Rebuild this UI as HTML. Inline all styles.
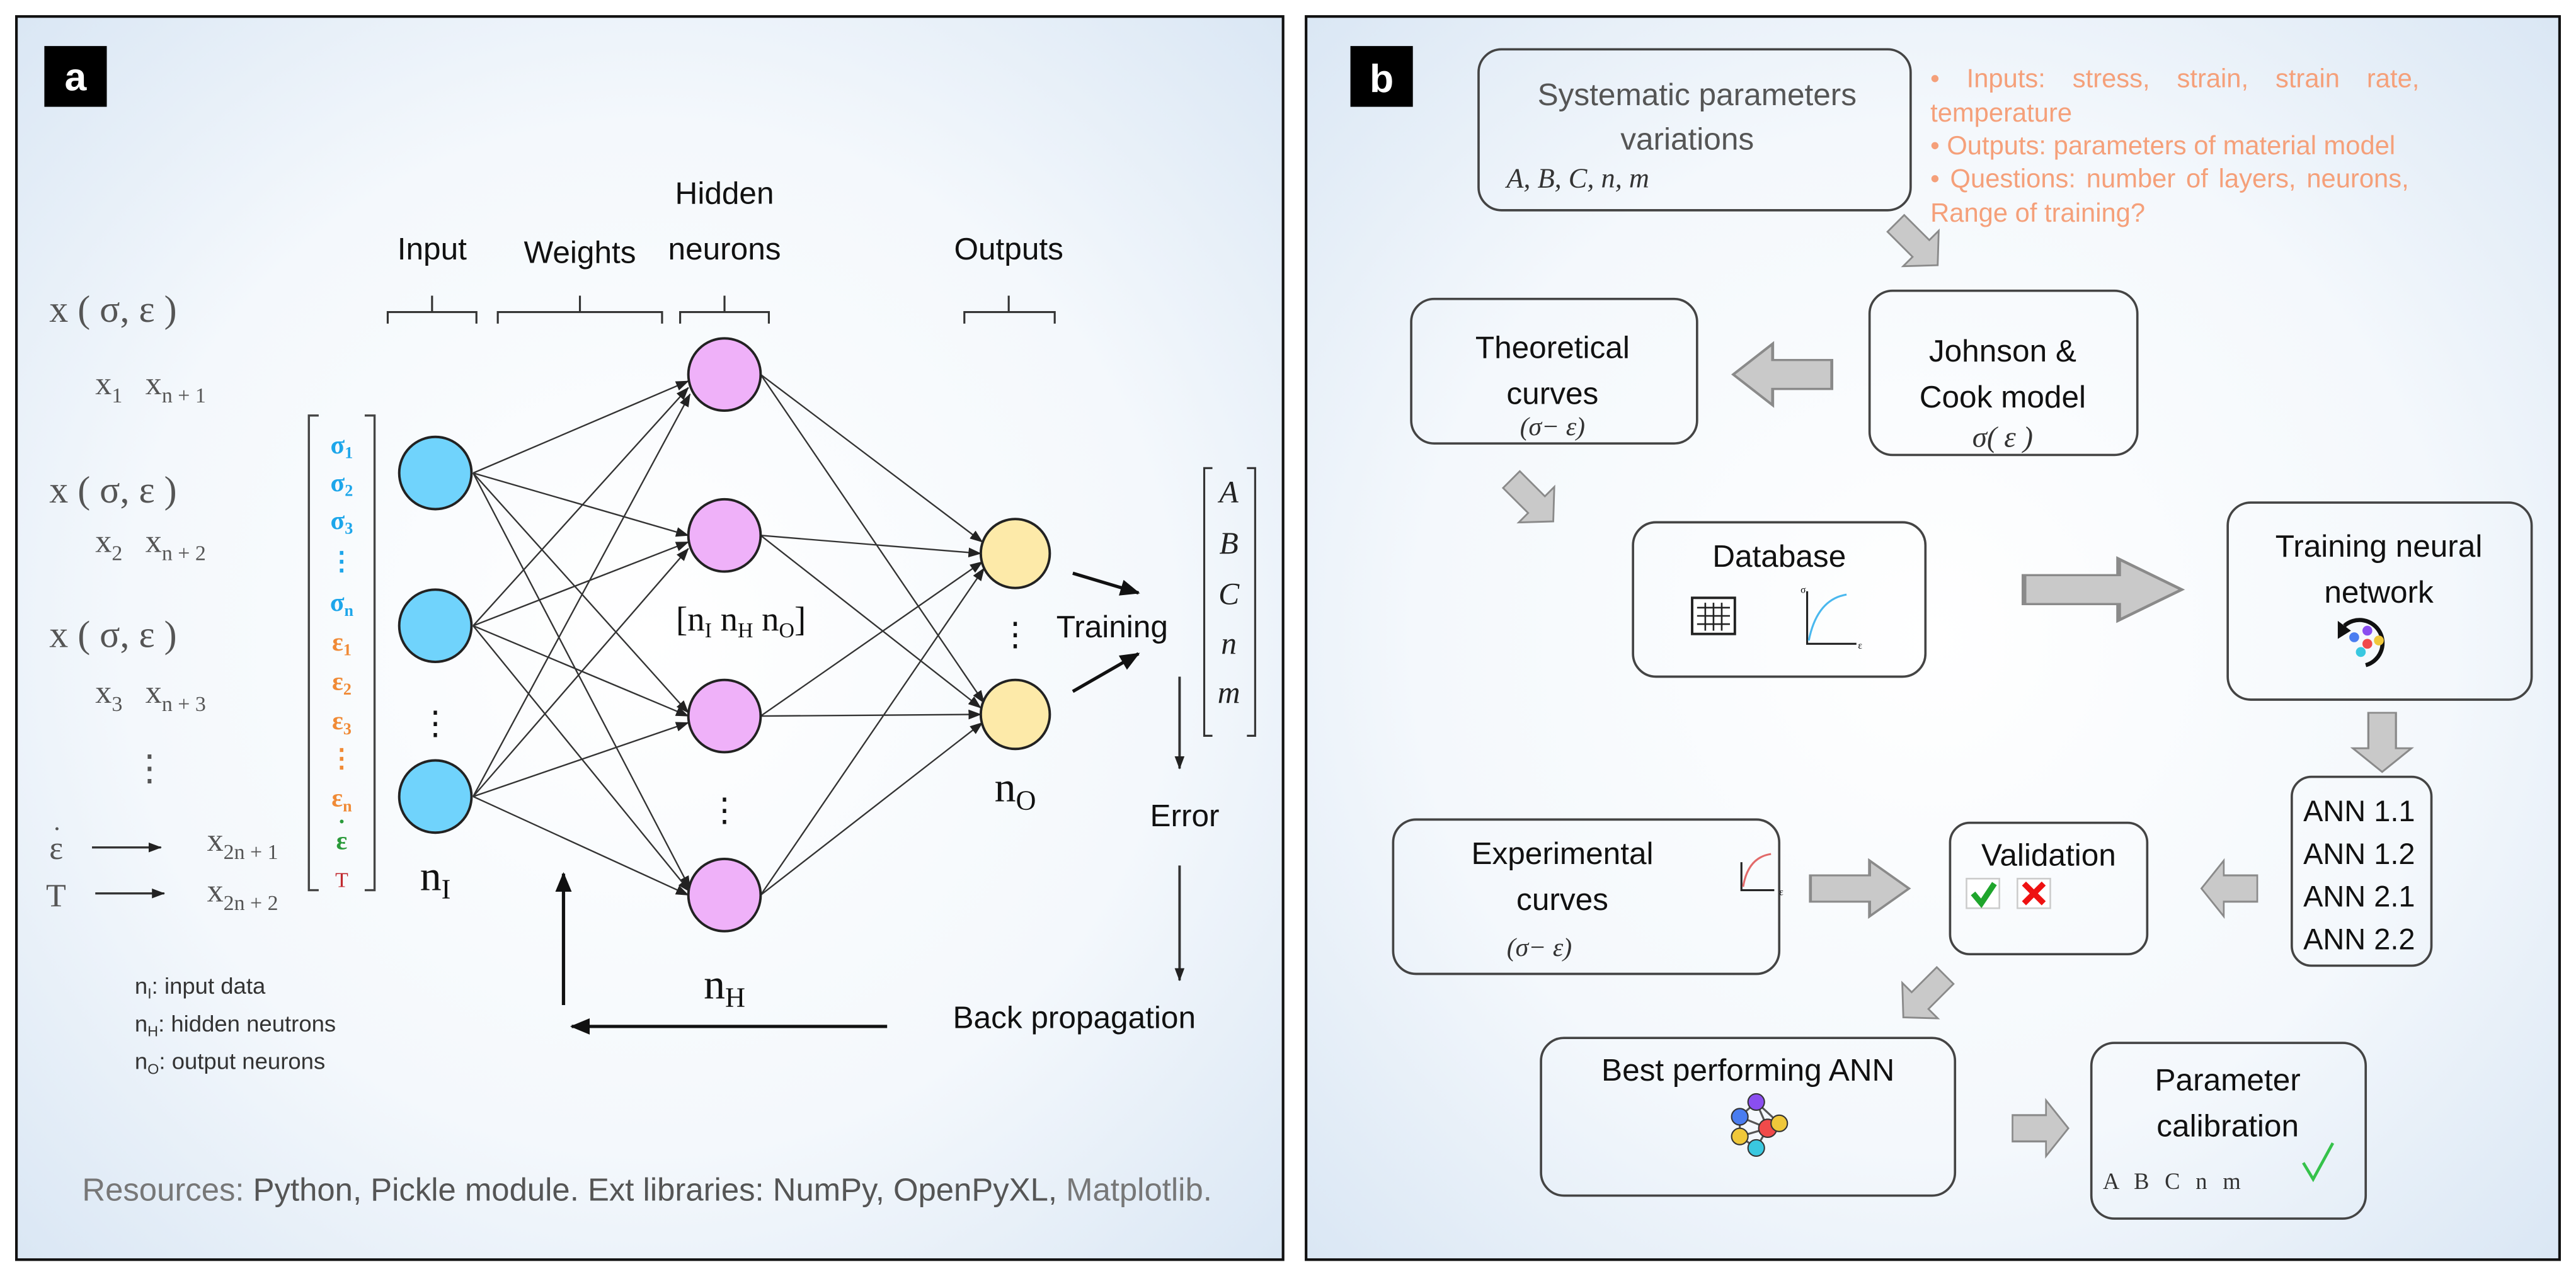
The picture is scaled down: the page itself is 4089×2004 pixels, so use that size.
<!DOCTYPE html>
<html><head><meta charset="utf-8"><style>
html,body{margin:0;padding:0;background:#fff}
svg{display:block}
.s{font-family:"Liberation Sans",sans-serif}
.r{font-family:"Liberation Serif",serif}
</style></head><body>
<svg width="4089" height="2004" viewBox="0 0 1568 768.4" xmlns="http://www.w3.org/2000/svg">
<defs>
<radialGradient id="bg" cx="0.5" cy="0.5" r="0.75">
<stop offset="0" stop-color="#ffffff"/><stop offset="0.55" stop-color="#f4f8fc"/><stop offset="1" stop-color="#d6e4f3"/>
</radialGradient>
<marker id="ah" markerWidth="8" markerHeight="6" refX="7.5" refY="3" orient="auto" markerUnits="userSpaceOnUse"><path d="M0,0 L8,3 L0,6 Z" fill="#222"/></marker>
<marker id="ab" markerWidth="12" markerHeight="10" refX="11" refY="5" orient="auto" markerUnits="userSpaceOnUse"><path d="M0,0 L12,5 L0,10 Z" fill="#111"/></marker>
<g id="garr"><path d="M0,-8 L24,-8 L24,-17 L40,0 L24,17 L24,8 L0,8 Z" fill="#c9c9c9" stroke="#8a8a8a" stroke-width="1.2"/></g>
</defs>
<!-- Panel a -->
<rect x="10" y="10" width="771" height="757" fill="url(#bg)" stroke="#111" stroke-width="1.6"/>
<rect x="27" y="28" width="38" height="37" fill="#000"/>
<text x="46" y="55" class="s" font-size="24" font-weight="bold" fill="#fff" text-anchor="middle">a</text>
<g class="s" font-size="19" fill="#111" text-anchor="middle">
<text x="263" y="158">Input</text><text x="353" y="160">Weights</text>
<text x="441" y="124">Hidden</text><text x="441" y="158">neurons</text>
<text x="614" y="158">Outputs</text>
</g>
<g stroke="#333" stroke-width="1.2" fill="none">
<path d="M236,197 V190 H290 V197 M263,190 V180"/>
<path d="M303,197 V190 H403 V197 M353,190 V180"/>
<path d="M414,197 V190 H468 V197 M441,190 V180"/>
<path d="M587,197 V190 H642 V197 M614,190 V180"/>
</g>
<g class="r" fill="#555" font-size="23">
<text x="30" y="196">x ( σ, ε )</text>
<text x="30" y="306">x ( σ, ε )</text>
<text x="30" y="394">x ( σ, ε )</text>
<g font-size="20">
<text x="58" y="240">x<tspan font-size="13" dy="5">1</tspan><tspan dx="14" dy="-5">x</tspan><tspan font-size="13" dy="5">n + 1</tspan></text>
<text x="58" y="336">x<tspan font-size="13" dy="5">2</tspan><tspan dx="14" dy="-5">x</tspan><tspan font-size="13" dy="5">n + 2</tspan></text>
<text x="58" y="428">x<tspan font-size="13" dy="5">3</tspan><tspan dx="14" dy="-5">x</tspan><tspan font-size="13" dy="5">n + 3</tspan></text>
<text x="126" y="518">x<tspan font-size="13" dy="5">2n + 1</tspan></text>
<text x="126" y="549">x<tspan font-size="13" dy="5">2n + 2</tspan></text>
<text x="30" y="523">ε</text>
<text x="32" y="510" font-size="16">·</text>
<text x="28" y="552">T</text>
</g>
<text x="80" y="475" font-size="22">⋮</text>
</g>
<path d="M56,516 H98" stroke="#333" stroke-width="1.3" marker-end="url(#ah)"/>
<path d="M58,544 H100" stroke="#333" stroke-width="1.3" marker-end="url(#ah)"/>
<path d="M194,253 H188 V542 H194 M222,253 H228 V542 H222" stroke="#444" stroke-width="1.3" fill="none"/>
<g class="r" font-size="16" font-weight="bold" text-anchor="middle">
<text x="208" y="276" fill="#1da6ea">σ<tspan font-size="10" dy="3">1</tspan></text>
<text x="208" y="299" fill="#1da6ea">σ<tspan font-size="10" dy="3">2</tspan></text>
<text x="208" y="322" fill="#1da6ea">σ<tspan font-size="10" dy="3">3</tspan></text>
<text x="208" y="347" fill="#1da6ea">⋮</text>
<text x="208" y="372" fill="#1da6ea">σ<tspan font-size="10" dy="3">n</tspan></text>
<text x="208" y="396" fill="#f08a36">ε<tspan font-size="10" dy="3">1</tspan></text>
<text x="208" y="420" fill="#f08a36">ε<tspan font-size="10" dy="3">2</tspan></text>
<text x="208" y="444" fill="#f08a36">ε<tspan font-size="10" dy="3">3</tspan></text>
<text x="208" y="467" fill="#f08a36">⋮</text>
<text x="208" y="491" fill="#f08a36">ε<tspan font-size="10" dy="3">n</tspan></text>
<text x="208" y="517" fill="#2a9a3a">ε</text>
<text x="208" y="505" fill="#2a9a3a" font-size="14">·</text>
<text x="208" y="540" fill="#c0282e" font-weight="normal" font-size="13">T</text>
</g>
<!-- connections -->
<g stroke="#333" stroke-width="0.9" fill="none" marker-end="url(#ah)">
<path d="M288,288 L419,232"/><path d="M288,288 L419,326"/><path d="M288,288 L419,434"/><path d="M288,288 L420,541"/>
<path d="M288,381 L419,236"/><path d="M288,381 L419,330"/><path d="M288,381 L419,436"/><path d="M288,381 L420,543"/>
<path d="M288,485 L420,240"/><path d="M288,485 L419,334"/><path d="M288,485 L419,440"/><path d="M288,485 L419,545"/>
<path d="M463,228 L598,330"/><path d="M463,228 L599,428"/>
<path d="M463,326 L597,337"/><path d="M463,326 L597,431"/>
<path d="M463,436 L598,342"/><path d="M463,436 L597,435"/>
<path d="M463,545 L599,346"/><path d="M463,545 L598,440"/>
</g>
<g stroke="#222" stroke-width="1.5">
<circle cx="265" cy="288" r="22" fill="#70d3fc"/><circle cx="265" cy="381" r="22" fill="#70d3fc"/><circle cx="265" cy="485" r="22" fill="#70d3fc"/>
<circle cx="441" cy="228" r="22" fill="#efb1f9"/><circle cx="441" cy="326" r="22" fill="#efb1f9"/><circle cx="441" cy="436" r="22" fill="#efb1f9"/><circle cx="441" cy="545" r="22" fill="#efb1f9"/>
<circle cx="618" cy="337" r="21" fill="#fdeaa9"/><circle cx="618" cy="435" r="21" fill="#fdeaa9"/>
</g>
<g class="r" fill="#111" text-anchor="middle">
<text x="265" y="447" font-size="20">⋮</text>
<text x="441" y="500" font-size="20">⋮</text>
<text x="618" y="393" font-size="20">⋮</text>
<text x="265" y="542" font-size="26">n<tspan font-size="17" dy="5">I</tspan></text>
<text x="441" y="608" font-size="26">n<tspan font-size="17" dy="5">H</tspan></text>
<text x="618" y="488" font-size="26">n<tspan font-size="17" dy="5">O</tspan></text>
<text x="451" y="384" font-size="21">[n<tspan font-size="13" dy="4">I</tspan><tspan dy="-4"> n</tspan><tspan font-size="13" dy="4">H</tspan><tspan dy="-4"> n</tspan><tspan font-size="13" dy="4">O</tspan><tspan dy="-4">]</tspan></text>
</g>
<path d="M653,349 L693,361" stroke="#111" stroke-width="2" marker-end="url(#ab)"/>
<path d="M653,421 L693,398" stroke="#111" stroke-width="2" marker-end="url(#ab)"/>
<text x="643" y="388" class="s" font-size="19" fill="#111">Training</text>
<path d="M738,285 H733 V448 H738 M759,285 H764 V448 H759" stroke="#333" stroke-width="1.2" fill="none"/>
<g class="r" font-style="italic" font-size="19" fill="#222" text-anchor="middle">
<text x="748" y="306">A</text><text x="748" y="337">B</text><text x="748" y="368">C</text><text x="748" y="398">n</text><text x="748" y="428">m</text>
</g>
<path d="M718,412 V468" stroke="#333" stroke-width="1.5" marker-end="url(#ah)"/>
<path d="M718,527 V597" stroke="#333" stroke-width="1.5" marker-end="url(#ah)"/>
<text x="700" y="503" class="s" font-size="19" fill="#111">Error</text>
<text x="580" y="626" class="s" font-size="19" fill="#111">Back propagation</text>
<path d="M540,625 H348" stroke="#111" stroke-width="2" marker-end="url(#ab)"/>
<path d="M343,612 V532" stroke="#111" stroke-width="2" marker-end="url(#ab)"/>
<g class="s" font-size="14" fill="#333">
<text x="82" y="605">n<tspan font-size="9" dy="3">I</tspan><tspan dy="-3">: input data</tspan></text>
<text x="82" y="628">n<tspan font-size="9" dy="3">H</tspan><tspan dy="-3">: hidden neutrons</tspan></text>
<text x="82" y="651">n<tspan font-size="9" dy="3">O</tspan><tspan dy="-3">: output neurons</tspan></text>
</g>
<text x="50" y="731" class="s" font-size="19.5" fill="#777">Resources: <tspan fill="#555">Python, Pickle module.  Ext libraries: NumPy, OpenPyXL,</tspan> Matplotlib.</text>

<!-- Panel b -->
<rect x="795" y="10" width="763" height="757" fill="url(#bg)" stroke="#111" stroke-width="1.6"/>
<rect x="822" y="28" width="38" height="37" fill="#000"/>
<text x="841" y="56" class="s" font-size="24" font-weight="bold" fill="#fff" text-anchor="middle">b</text>
<g fill="none" stroke="#444" stroke-width="1.4">
<rect x="900" y="30" width="263" height="98" rx="14"/>
<rect x="1138" y="177" width="163" height="100" rx="14"/>
<rect x="859" y="182" width="174" height="88" rx="14"/>
<rect x="994" y="318" width="178" height="94" rx="14"/>
<rect x="1356" y="306" width="185" height="120" rx="14"/>
<rect x="1395" y="473" width="85" height="115" rx="12"/>
<rect x="1187" y="501" width="120" height="80" rx="12"/>
<rect x="848" y="499" width="235" height="94" rx="14"/>
<rect x="938" y="632" width="252" height="96" rx="14"/>
<rect x="1273" y="635" width="167" height="107" rx="14"/>
</g>
<g class="s" font-size="19" fill="#111" text-anchor="middle">
<text x="1033" y="64" fill="#555">Systematic parameters</text>
<text x="1027" y="91" fill="#555">variations</text>
<text x="1219" y="220">Johnson &amp;</text><text x="1219" y="248">Cook model</text>
<text x="945" y="218">Theoretical</text><text x="945" y="246">curves</text>
<text x="1083" y="345">Database</text>
<text x="1448" y="339">Training neural</text><text x="1448" y="367">network</text>
<text x="1247" y="527">Validation</text>
<text x="951" y="526">Experimental</text><text x="951" y="554">curves</text>
<text x="1064" y="658">Best performing ANN</text>
<text x="1356" y="664">Parameter</text><text x="1356" y="692">calibration</text>
</g>
<g class="s" font-size="18" fill="#111">
<text x="1402" y="500">ANN 1.1</text><text x="1402" y="526">ANN 1.2</text><text x="1402" y="552">ANN 2.1</text><text x="1402" y="578">ANN 2.2</text>
</g>
<g class="r" font-style="italic" fill="#333" text-anchor="middle">
<text x="917" y="114" font-size="17" text-anchor="start">A, B, C, n, m</text>
<text x="1219" y="272" font-size="18">σ( ε )</text>
<text x="945" y="265" font-size="16">(σ− ε)</text>
<text x="937" y="582" font-size="16">(σ− ε)</text>
</g>
<text x="1280" y="724" class="r" font-size="14" fill="#333" letter-spacing="3">A B C n m</text>
<path d="M1402,708 L1408,718 L1420,696" stroke="#35c24a" stroke-width="1.8" fill="none"/>
<g class="s" font-size="16" fill="#f5a07a">
<text x="1175" y="53" word-spacing="12">• Inputs: stress, strain, strain rate,</text>
<text x="1175" y="74">temperature</text>
<text x="1175" y="94">• Outputs: parameters of material model</text>
<text x="1175" y="114" word-spacing="2">• Questions: number of layers, neurons,</text>
<text x="1175" y="135">Range of training?</text>
</g>
<!-- gray arrows -->
<use href="#garr" transform="translate(1154,136) rotate(45) scale(0.9)"/>
<use href="#garr" transform="translate(1115,228) rotate(180) scale(1.5,1.1)"/>
<use href="#garr" transform="translate(920,292) rotate(45) scale(0.9)"/>
<use href="#garr" transform="translate(1232,359) scale(2.4,1.1)"/>
<use href="#garr" transform="translate(1450,434) rotate(90) scale(0.9,1.05)"/>
<use href="#garr" transform="translate(1374,541) rotate(180) scale(0.85,1.0)"/>
<use href="#garr" transform="translate(1102,541) scale(1.5,1.0)"/>
<use href="#garr" transform="translate(1184,594) rotate(135) scale(0.9)"/>
<use href="#garr" transform="translate(1225,687) scale(0.85,1.0)"/>
<!-- icons -->
<rect x="1030" y="364" width="26" height="22" fill="#fff" stroke="#222" stroke-width="1.5"/>
<path d="M1033,370 H1053 M1033,375 H1053 M1033,380 H1053 M1038,367 V384 M1043,367 V384 M1048,367 V384" stroke="#222" stroke-width="1"/>
<path d="M1100,360 V392 H1130" stroke="#222" stroke-width="1.2" fill="none"/>
<path d="M1101,390 Q1106,365 1124,362" stroke="#4ab8ee" stroke-width="1.2" fill="none"/>
<text x="1096" y="361" font-size="6" class="r">σ</text><text x="1131" y="395" font-size="6" class="r">ε</text>
<path d="M1060,525 V542 H1080" stroke="#222" stroke-width="1.2" fill="none"/>
<path d="M1061,540 Q1064,522 1078,520" stroke="#e26a6a" stroke-width="1.2" fill="none"/>
<text x="1083" y="545" font-size="6" class="r">ε</text>
<rect x="1197" y="535" width="20" height="18" fill="#fff" stroke="#ccc"/>
<path d="M1201,544 L1206,550 L1214,538" stroke="#1fa52c" stroke-width="3.5" fill="none"/>
<rect x="1228" y="535" width="20" height="18" fill="#fff" stroke="#ccc"/>
<path d="M1232,538 L1244,550 M1244,538 L1232,550" stroke="#e11" stroke-width="3.5"/>
<path d="M1427,381 A14,14 0 1 1 1440,405" stroke="#111" stroke-width="2.5" fill="none"/>
<path d="M1423,378 L1431,384 L1423,389 Z" fill="#111"/>
<circle cx="1433" cy="388" r="3" fill="#4a7df0"/><circle cx="1441" cy="384" r="3" fill="#8a4ef0"/><circle cx="1441" cy="392" r="3" fill="#f04a4a"/><circle cx="1448" cy="390" r="3" fill="#f0c83a"/><circle cx="1437" cy="397" r="3" fill="#3ac8e0"/>
<g stroke="#555" stroke-width="1.2" fill="none"><path d="M1059,680 L1069,671 L1076,687 L1059,692 Z M1059,680 L1076,687 L1083,684 L1069,671 M1059,692 L1069,699 L1076,687"/></g>
<circle cx="1059" cy="680" r="5" fill="#4a7df0" stroke="#333" stroke-width="0.8"/>
<circle cx="1069" cy="671" r="5" fill="#8a4ef0" stroke="#333" stroke-width="0.8"/>
<circle cx="1076" cy="687" r="5.5" fill="#f04a4a" stroke="#333" stroke-width="0.8"/>
<circle cx="1083" cy="684" r="5" fill="#f0c83a" stroke="#333" stroke-width="0.8"/>
<circle cx="1059" cy="692" r="5" fill="#f0c83a" stroke="#333" stroke-width="0.8"/>
<circle cx="1069" cy="699" r="5" fill="#3ac8e0" stroke="#333" stroke-width="0.8"/>
</svg>
</body></html>
